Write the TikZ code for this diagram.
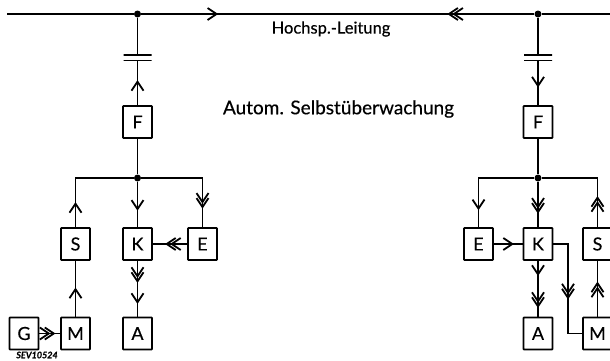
\documentclass[tikz,border=0pt]{standalone}
\usepackage{fontspec}
\setmainfont{Lato}[FakeBold=0.3]
\usetikzlibrary{arrows.meta}
\usetikzlibrary{decorations.markings}
\tikzset{
  >={Straight Barb[length=9pt,width=12pt,line width=1.8pt]},
  wire/.style = {line width=1.8pt, line join=miter},
  blk/.style = {rectangle, draw=black, line width=1.8pt, rounded corners=0.6pt,
    minimum width=29pt, minimum height=32pt, inner sep=0pt, font=\fontsize{18}{18}\selectfont},
  dot/.style = {circle, fill=black, minimum size=7pt, inner sep=0pt},
  plate/.style = {rectangle, draw=black, line width=1.6pt, minimum width=28pt,
    minimum height=0pt, inner sep=0pt, outer sep=0pt},
  tipa/.style = {postaction={decorate, decoration={markings,
    mark=at position #1 with {\arrow{>}}}}},% single tip
  tipb/.style = {postaction={decorate, decoration={markings,
    mark=at position #1 with {\arrow{>}\pgftransformxshift{-5pt}\arrow{>}}}}}% double tip
}
\begin{document}
\begin{tikzpicture}[x=1pt,y=-1pt]
\useasboundingbox (0,0) rectangle (610,360);
\coordinate (lineL) at (7,14);
\coordinate (lineR) at (610,14);
\node [dot] (topL) at (137.5,14) {};
\node [dot] (topR) at (538,14) {};
\node [font=\fontsize{16.5}{16.5}\selectfont] (title) at (331,29) {Hochsp.-Leitung};
\node [font=\fontsize{19}{19}\selectfont] (auto) at (338.5,109) {Autom. Selbstüberwachung};
\node [font=\fontsize{9}{9}\selectfont\bfseries\itshape, inner sep=0pt] (sev) at (37,355) {SEV10524};
% left station
\node [plate] (capLa) at (137.5,55) {};
\node [plate] (capLb) at (137.5,60.5) {};
\node [blk] (FL) at (137.5,122) {F};
\node [dot] (busL) at (137.5,178) {};
\node [blk] (SL) at (75.5,244) {S};
\node [blk] (KL) at (137.5,244) {K};
\node [blk] (EL) at (202.5,244) {E};
\node [blk] (GL) at (24,333.5) {G};
\node [blk] (ML) at (75.5,333.5) {M};
\node [blk] (AL) at (137.5,333.5) {A};
% right station
\node [plate] (capRa) at (538,55) {};
\node [plate] (capRb) at (538,60.5) {};
\node [blk] (FR) at (538,122) {F};
\node [dot] (busR) at (538,178) {};
\node [blk] (ER) at (478.5,244) {E};
\node [blk] (KR) at (538,244) {K};
\node [blk] (SR) at (597.5,244) {S};
\node [blk] (AR) at (538,333.5) {A};
\node [blk] (MR) at (597.5,333.5) {M};
\coordinate (bendR) at (568,244);
% line
\draw [wire] (lineL) -- (topL);
\draw [wire, tipa=77pt] (topL) -- (topR);
\draw [wire] (topR) -- (lineR);
\draw [wire, tipb=87pt] (topR) -- (topL);
% left connectors
\draw [wire] (topL) -- (capLa);
\draw [wire, tipa=25pt] (FL) -- (capLb);
\draw [wire] (FL) -- (busL);
\draw [wire, tipa=25pt] (SL) |- (busL);
\draw [wire, tipa=29pt] (busL) -- (KL);
\draw [wire, tipb=92pt] (busL) -| (EL);
\draw [wire, tipb=22pt] (EL) -- (KL);
\draw [wire, tipb=22pt, tipa=43pt] (KL) -- (AL);
\draw [wire, tipa=29pt] (ML) -- (SL);
\draw [wire, tipb=16pt] (GL) -- (ML);
% right connectors
\draw [wire] (topR) -- (capRa);
\draw [wire, tipa=27pt] (capRb) -- (FR);
\draw [wire] (FR) -- (busR);
\draw [wire, tipa=88pt] (busR) -| (ER);
\draw [wire, tipb=32pt] (busR) -- (KR);
\draw [wire, tipb=31pt] (SR) |- (busR);
\draw [wire, tipa=20pt] (ER) -- (KR);
\draw [wire, tipa=15pt, tipb=47pt] (KR) -- (AR);
\draw [wire, tipb=70pt] (KR) -- (bendR) |- (MR);
\draw [wire, tipb=35pt] (MR) -- (SR);
\end{tikzpicture}
\end{document}
